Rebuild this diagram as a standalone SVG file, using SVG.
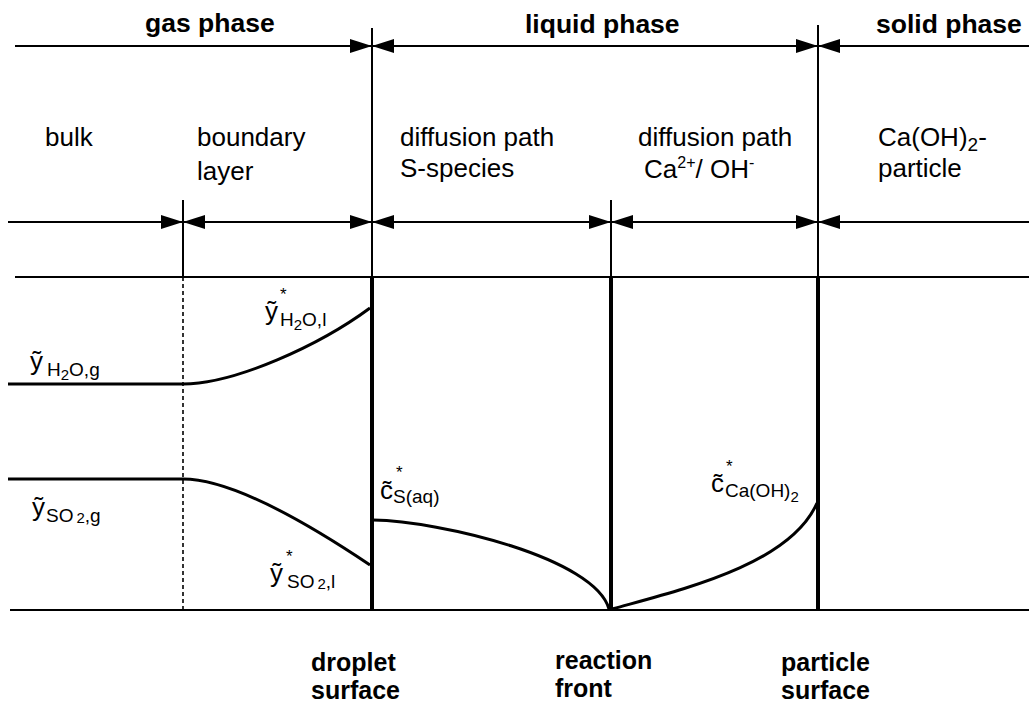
<svg xmlns="http://www.w3.org/2000/svg" width="1029" height="706" viewBox="0 0 1029 706">
<defs>
<marker id="ah" markerUnits="userSpaceOnUse" markerWidth="22" markerHeight="14" refX="22" refY="7" orient="auto-start-reverse">
<path d="M0,0 L22,7 L0,14 z" fill="#000"/>
</marker>
<style>
.t{font-family:"Liberation Sans",Arial,sans-serif;fill:#000}
.h{font-size:26.5px;font-weight:bold}
.b{font-size:25px;font-weight:bold}
.r{font-size:26px}
.v{font-size:26px}
.s{font-size:19px}
.ss{font-size:15px}
.st{font-size:17px}
.thin{stroke:#000;stroke-width:2;fill:none}
.thick{stroke:#000;stroke-width:4;fill:none}
.cur{stroke:#000;stroke-width:3;fill:none}
.arr{stroke:#000;stroke-width:2;fill:none}
</style>
</defs>
<rect width="1029" height="706" fill="#fff"/>

<g id="connectors">
<line class="arr" x1="15" y1="46" x2="372" y2="46" marker-end="url(#ah)"/>
<line class="arr" x1="372" y1="46" x2="818" y2="46" marker-start="url(#ah)" marker-end="url(#ah)"/>
<line class="arr" x1="818" y1="46" x2="1029" y2="46" marker-start="url(#ah)"/>
<line class="arr" x1="8" y1="222" x2="183" y2="222" marker-end="url(#ah)"/>
<line class="arr" x1="183" y1="222" x2="372" y2="222" marker-start="url(#ah)" marker-end="url(#ah)"/>
<line class="arr" x1="372" y1="222" x2="611" y2="222" marker-start="url(#ah)" marker-end="url(#ah)"/>
<line class="arr" x1="611" y1="222" x2="818" y2="222" marker-start="url(#ah)" marker-end="url(#ah)"/>
<line class="arr" x1="818" y1="222" x2="1029" y2="222" marker-start="url(#ah)"/>
<line class="thin" x1="15" y1="277" x2="1029" y2="277"/>
<line class="thin" x1="10" y1="610" x2="1029" y2="610" stroke-width="2.5"/>
<line class="thin" x1="372" y1="28" x2="372" y2="277"/>
<line class="thin" x1="818" y1="25" x2="818" y2="277"/>
<line class="thin" x1="183" y1="200" x2="183" y2="277"/>
<line class="thin" x1="611" y1="200" x2="611" y2="277"/>
<line class="thick" x1="372" y1="277" x2="372" y2="611"/>
<line class="thick" x1="611" y1="277" x2="611" y2="611"/>
<line class="thick" x1="818" y1="277" x2="818" y2="611"/>
<line x1="183" y1="277" x2="183" y2="610" stroke="#000" stroke-width="1.6" stroke-dasharray="4,3"/>
<path class="cur" d="M8,384 L183,384 C235,384 320,345 370,308"/>
<path class="cur" d="M8,479 L183,479 C230,479 300,518 370,565"/>
<path class="cur" d="M373,520 C440,521 595,558 609,609"/>
<path class="cur" d="M612,609 C680,590 790,565 817,503"/>
</g>

<g id="phase-labels">
<text class="t h" x="145" y="32">gas phase</text>
<text class="t h" x="525" y="33">liquid phase</text>
<text class="t h" x="876" y="33">solid phase</text>
</g>

<g id="zone-bulk"><text class="t r" x="45" y="146">bulk</text></g>
<g id="zone-boundary"><text class="t r" x="197" y="146">boundary</text><text class="t r" x="197" y="180">layer</text></g>
<g id="zone-diff-s"><text class="t r" x="400" y="146">diffusion path</text><text class="t r" x="400" y="177">S-species</text></g>
<g id="zone-diff-ca"><text class="t r" x="638" y="146">diffusion path</text><text class="t r" x="644" y="178">Ca<tspan font-size="16" dy="-10">2+</tspan><tspan dy="10">/ OH</tspan><tspan font-size="16" dy="-10">-</tspan></text></g>
<g id="zone-particle"><text class="t r" x="878" y="146">Ca(OH)<tspan font-size="19" dy="5">2</tspan><tspan dy="-5">-</tspan></text><text class="t r" x="878" y="177">particle</text></g>

<g id="label-yH2Og"><text class="t v" x="30" y="370">ỹ<tspan class="s" x="47" y="376">H<tspan class="ss" dy="4">2</tspan><tspan dy="-4">O,g</tspan></tspan></text></g>
<g id="label-yH2Ol"><text class="t v" x="265" y="320">ỹ<tspan class="st" x="280" y="300">*</tspan><tspan class="s" x="280" y="326">H<tspan class="ss" dy="4">2</tspan><tspan dy="-4">O,l</tspan></tspan></text></g>
<g id="label-ySO2g"><text class="t v" x="32" y="516">ỹ<tspan class="s" x="46" y="522">SO<tspan class="ss" dx="3" dy="1">2</tspan><tspan dy="-1">,g</tspan></tspan></text></g>
<g id="label-ySO2l"><text class="t v" x="270" y="582">ỹ<tspan class="st" x="286" y="562">*</tspan><tspan class="s" x="287" y="588">SO<tspan class="ss" dx="3" dy="1">2</tspan><tspan dy="-1">,l</tspan></tspan></text></g>
<g id="label-cS"><text class="t v" x="380" y="499">c̃<tspan class="st" x="396" y="478">*</tspan><tspan class="s" x="393" y="503">S(aq)</tspan></text></g>
<g id="label-cCa"><text class="t v" x="711" y="492">c̃<tspan class="st" x="726" y="472">*</tspan><tspan class="s" x="725" y="497">Ca(OH)<tspan class="ss" dy="5">2</tspan></tspan></text></g>

<g id="surface-labels">
<text class="t b" x="311" y="671">droplet</text><text class="t b" x="311" y="699">surface</text>
<text class="t b" x="555" y="669">reaction</text><text class="t b" x="555" y="697">front</text>
<text class="t b" x="781" y="671">particle</text><text class="t b" x="781" y="699">surface</text>
</g>
</svg>
